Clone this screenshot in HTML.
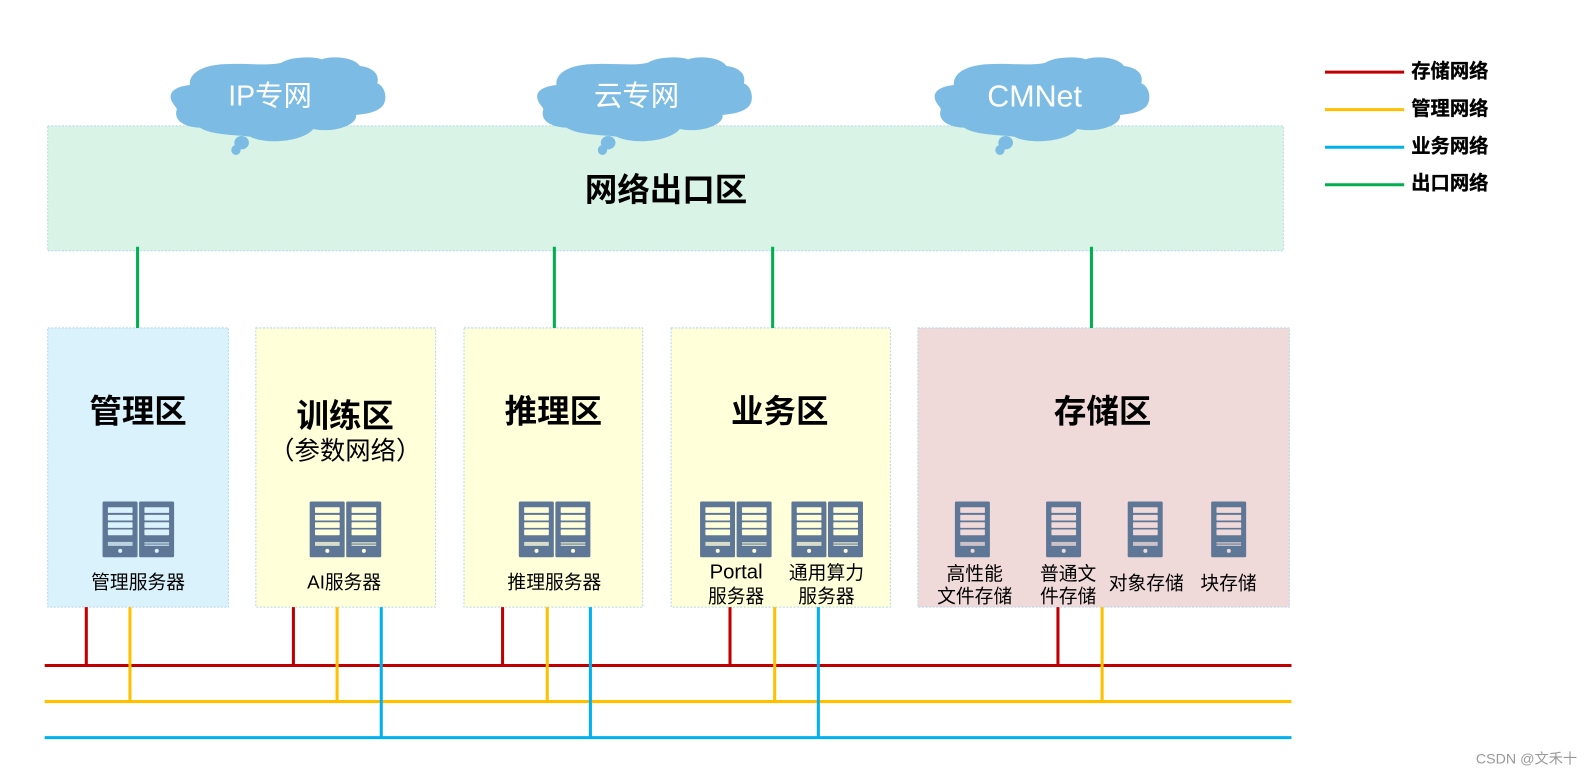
<!DOCTYPE html>
<html><head><meta charset="utf-8"><style>
html,body{margin:0;padding:0;background:#fff}
svg{display:block}
text{font-family:"Liberation Sans","Noto Sans CJK SC",sans-serif;text-anchor:middle;dominant-baseline:central;fill:#000}
.b{font-weight:700}
.z{stroke:#b5d8ea;stroke-width:1;stroke-dasharray:2 1.5}
.l{font-size:18.5px}
.h{font-size:32px;font-weight:700}
.c{font-size:28px;fill:#fff}
.g{font-size:19px;font-weight:700;text-anchor:start;stroke:#000;stroke-width:.3px}
</style></head><body>
<svg xmlns="http://www.w3.org/2000/svg" width="1592" height="776" viewBox="0 0 1568 764.3">
<defs>
<g id="s"><g transform="scale(.3283)">
<rect width="105" height="167" rx="4" fill="#5f7797"/>
<g fill="currentColor"><rect x="16" y="17" width="74" height="17" rx="2"/><rect x="16" y="40" width="74" height="17" rx="2"/><rect x="16" y="62" width="74" height="17" rx="2"/><rect x="16" y="84" width="74" height="17" rx="2"/><circle cx="53" cy="148" r="6"/><rect x="16" y="121" width="74" height="12" opacity=".75"/></g>
</g></g>
<g id="t"><g transform="scale(.3283)">
<rect width="105" height="167" rx="4" fill="#5f7797"/>
<g fill="currentColor"><rect x="16" y="17" width="74" height="17" rx="2"/><rect x="16" y="40" width="74" height="17" rx="2"/><rect x="16" y="62" width="74" height="17" rx="2"/><rect x="16" y="84" width="74" height="17" rx="2"/><circle cx="53" cy="148" r="6"/><rect x="16" y="122" width="74" height="4" opacity=".8"/><rect x="16" y="129" width="74" height="4" opacity=".8"/></g>
</g></g>
<g id="cl" fill="#7cbce4"><g transform="scale(.3283)">
<path d="M62 170C62 148 90 138 120 135C115 105 150 72 240 72C300 70 360 78 395 68C420 50 490 48 515 58C540 48 610 48 630 78C665 82 690 100 682 130C710 140 715 190 690 205C670 220 640 222 618 225C625 255 550 280 490 267C460 305 350 315 300 290C260 285 180 285 150 263C110 262 70 245 80 210C85 205 62 190 62 170Z"/>
<ellipse cx="275" cy="308" rx="22" ry="20"/><ellipse cx="258" cy="330" rx="14" ry="15"/>
</g></g>
</defs>
<rect x="47" y="124" width="1217" height="123" fill="#d9f3e6" class="z"/>
<rect x="47" y="323" width="178" height="275" fill="#d9f2fc" class="z"/>
<rect x="252" y="323" width="177" height="275" fill="#ffffd9" class="z"/>
<rect x="457" y="323" width="176" height="275" fill="#ffffd9" class="z"/>
<rect x="661" y="323" width="216" height="275" fill="#ffffd9" class="z"/>
<rect x="904" y="323" width="366" height="275" fill="#efd9d9" class="z"/>

<use href="#cl" transform="translate(147.7,39.4)"/>
<use href="#cl" transform="translate(508.7,39.4)"/>
<use href="#cl" transform="translate(900.2,39.4)"/>
<text x="266" y="95" class="c">IP专网</text>
<text x="627" y="95" class="c">云专网</text>
<text x="1019" y="95" class="c" style="font-size:30px">CMNet</text>
<text x="656" y="187" class="b" style="font-size:32px">网络出口区</text>

<g stroke="#00b050" stroke-width="3"><path d="M135.500 243V323M546 243V323M761 243V323M1075 243V323"/></g>
<g stroke="#c00000" stroke-width="3"><path d="M85 598V655M289 598V655M495 598V655M719 598V655M1042 598V655M44 655.500H1272"/></g>
<g stroke="#ffc000" stroke-width="3"><path d="M128 598V691M332 598V691M539 598V691M763 598V691M1085.500 598V691M44 691H1272"/></g>
<g stroke="#00b0f0" stroke-width="3"><path d="M44 726.500H1272"/><path d="M375.500 598V726M581.500 598V726M806 598V726"/></g>

<text x="136" y="405.500" class="h">管理区</text>
<text x="340" y="409.500" class="h">训练区</text>
<text x="340" y="444.500" style="font-size:25px">（参数网络）</text>
<text x="545" y="405.500" class="h">推理区</text>
<text x="768" y="405.500" class="h">业务区</text>
<text x="1086" y="405.500" class="h">存储区</text>

<g style="color:#d9f2fc"><use href="#s" x="101" y="494"/><use href="#t" x="137" y="494"/></g>
<g style="color:#ffffd9"><use href="#s" x="305" y="494"/><use href="#t" x="341" y="494"/>
<use href="#s" x="511" y="494"/><use href="#t" x="547" y="494"/>
<use href="#s" x="689.500" y="494"/><use href="#t" x="725.500" y="494"/>
<use href="#s" x="779.500" y="494"/><use href="#t" x="815.500" y="494"/></g>
<g style="color:#efd9d9"><use href="#s" x="940.500" y="494"/><use href="#s" x="1030.300" y="494"/><use href="#s" x="1110.700" y="494"/><use href="#t" x="1192.900" y="494"/></g>

<text x="136" y="573" class="l">管理服务器</text>
<text x="339" y="573" class="l">AI服务器</text>
<text x="546" y="573" class="l">推理服务器</text>
<text x="725" y="564" class="l" style="font-size:20px">Portal</text>
<text x="725" y="587" class="l">服务器</text>
<text x="814" y="564" class="l">通用算力</text>
<text x="814" y="587" class="l">服务器</text>
<text x="960" y="565" class="l">高性能</text>
<text x="960" y="587" class="l">文件存储</text>
<text x="1052" y="565" class="l">普通文</text>
<text x="1052" y="587" class="l">件存储</text>
<text x="1129" y="574" class="l">对象存储</text>
<text x="1210" y="574" class="l">块存储</text>

<line x1="1305" y1="71" x2="1383" y2="71" stroke="#c00000" stroke-width="3"/>
<line x1="1305" y1="108" x2="1383" y2="108" stroke="#ffc000" stroke-width="3"/>
<line x1="1305" y1="145" x2="1383" y2="145" stroke="#00b0f0" stroke-width="3"/>
<line x1="1305" y1="182" x2="1383" y2="182" stroke="#00b050" stroke-width="3"/>
<text x="1390" y="71" class="g">存储网络</text>
<text x="1390" y="108" class="g">管理网络</text>
<text x="1390" y="145" class="g">业务网络</text>
<text x="1390" y="181" class="g">出口网络</text>

<text x="1503.500" y="748" style="font-size:14px;fill:#999">CSDN @文禾十</text>
</svg>
</body></html>
